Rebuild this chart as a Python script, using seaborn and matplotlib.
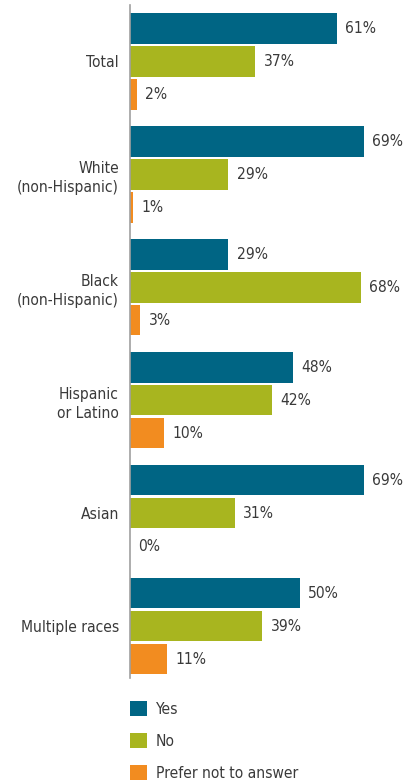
import pandas as pd
import matplotlib
matplotlib.use('Agg')
import matplotlib.pyplot as plt
import seaborn as sns

# Survey answers by race / ethnicity (percent)
groups = ['Total', 'White\n(non-Hispanic)', 'Black\n(non-Hispanic)',
          'Hispanic\nor Latino', 'Asian', 'Multiple races']
answers = ['Yes', 'No', 'Prefer not to answer']
yes_vals = [61, 69, 29, 48, 69, 50]
no_vals = [37, 29, 68, 42, 31, 39]
pref_vals = [2, 1, 3, 10, 0, 11]

colors = ['#006584', '#A8B51F', '#F28C20']
text_color = '#3a3a3a'

df = pd.DataFrame({'Group': groups, 'Yes': yes_vals, 'No': no_vals,
                   'Prefer not to answer': pref_vals})
df_melted = df.melt(id_vars='Group', var_name='Answer', value_name='Pct')

sns.set_style('white')
plt.rcParams['font.family'] = ['DejaVu Sans']
plt.rcParams['font.stretch'] = 'condensed'

fs = 11.2

fig = plt.figure(figsize=(4.09, 7.8), dpi=100)
ax = fig.add_axes([130 / 409, 1 - 678 / 780, 1 - 130 / 409, (678 - 5) / 780])

sns.barplot(data=df_melted, y='Group', x='Pct', hue='Answer', order=groups,
            hue_order=answers, palette=colors, orient='h',
            width=0.876, gap=0.09, saturation=1, linewidth=0,
            ax=ax, legend=True)

ax.set_xlim(0, 82.3)
ax.set_ylim(5.456, -0.5)
ax.set_xlabel('')
ax.set_ylabel('')
ax.set_xticks([])

for side in ['top', 'right', 'bottom']:
    ax.spines[side].set_visible(False)
ax.spines['left'].set_color('#a0a0a0')
ax.spines['left'].set_linewidth(1.2)

ax.tick_params(axis='y', length=0, pad=8, labelsize=fs, labelcolor=text_color)
for lbl in ax.get_yticklabels():
    lbl.set_linespacing(1.3)

for cont in ax.containers:
    ax.bar_label(cont, fmt='%d%%', padding=6, fontsize=fs, color=text_color)

leg = ax.legend(loc='upper left', bbox_to_anchor=(0, -0.034), frameon=False,
                fontsize=fs, handlelength=1.1, handleheight=1.1,
                handletextpad=0.55, labelspacing=1.05, borderpad=0,
                borderaxespad=0)
for t in leg.get_texts():
    t.set_color(text_color)

fig.savefig('out.png', dpi=100)
